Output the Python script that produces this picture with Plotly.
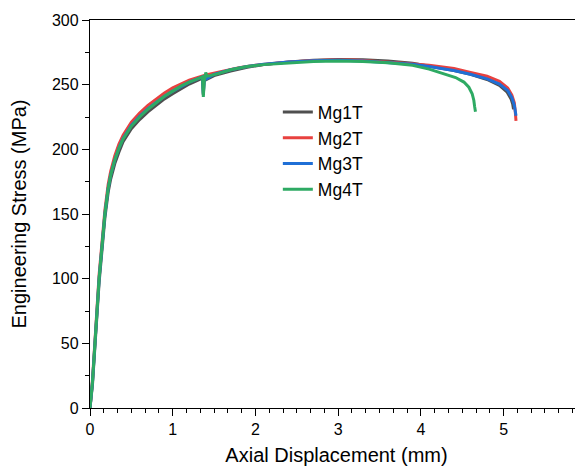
import plotly.graph_objects as go

# ---- data ----
mg1t_x = [0, 0.03, 0.06, 0.11, 0.18, 0.22, 0.25, 0.30, 0.35, 0.40, 0.50, 0.60, 0.70, 0.80, 0.90, 1.00,
          1.20, 1.36, 1.37, 1.38, 1.50, 1.70, 1.90, 2.10, 2.40, 2.70, 3.00, 3.30, 3.60, 3.90, 4.10,
          4.40, 4.60, 4.80, 4.95, 5.04, 5.09, 5.11, 5.12]
mg1t_y = [0, 18, 48, 97, 147, 167, 177, 189, 198, 206, 216, 223, 229, 234, 239, 243,
          250.5, 255, 242, 253, 257, 260.5, 263.5, 265.5, 267.5, 268.8, 269.5, 269.3, 268.3, 266.5, 264.5,
          261, 258, 254, 249.5, 244.5, 239, 235, 231]

mg2t_x = [0, 0.03, 0.06, 0.11, 0.18, 0.22, 0.25, 0.30, 0.35, 0.40, 0.50, 0.60, 0.70, 0.80, 0.90, 1.00,
          1.20, 1.40, 1.60, 1.80, 2.00, 2.30, 2.60, 2.90, 3.20, 3.50, 3.80, 4.10, 4.40, 4.60, 4.80,
          4.95, 5.05, 5.10, 5.13, 5.14, 5.15]
mg2t_y = [0, 22, 52, 103, 153, 173, 183, 195, 204, 211, 221, 228, 234, 239, 243.5, 247.5,
          253.5, 257.5, 260.5, 263, 265, 267, 268.3, 269, 269, 268, 266.5, 265, 262.5, 259.5, 256.5,
          252.5, 247.5, 242, 236, 230, 222]

mg3t_x = [0, 0.03, 0.06, 0.11, 0.18, 0.22, 0.25, 0.30, 0.35, 0.40, 0.50, 0.60, 0.70, 0.80, 0.90, 1.00,
          1.20, 1.36, 1.37, 1.38, 1.50, 1.70, 1.90, 2.10, 2.40, 2.70, 3.00, 3.30, 3.60, 3.90, 4.10,
          4.40, 4.60, 4.80, 4.95, 5.05, 5.10, 5.13, 5.14, 5.15]
mg3t_y = [0, 20, 50, 100, 150, 170, 180, 192, 201, 208.5, 218.5, 225.5, 231.5, 236.5, 241, 245,
          252, 256, 243, 253.5, 258, 261.5, 264, 265.8, 267.5, 268.5, 268.8, 268.3, 267.3, 265.8, 264,
          261, 258, 254.5, 250.5, 245.5, 240, 234, 230, 226]

mg4t_x = [0, 0.03, 0.06, 0.11, 0.18, 0.22, 0.25, 0.30, 0.35, 0.40, 0.50, 0.60, 0.70, 0.80, 0.90, 1.00,
          1.10, 1.20, 1.30, 1.36, 1.37, 1.38, 1.40, 1.41, 1.45, 1.55, 1.70, 1.90, 2.10, 2.40, 2.70,
          3.00, 3.30, 3.60, 3.90, 4.10, 4.30, 4.42, 4.52, 4.58, 4.62, 4.64, 4.65, 4.66]
mg4t_y = [0, 20, 50, 100, 150, 170, 180, 192, 201, 208, 218, 225, 231, 236, 241, 245,
          249, 252, 254.5, 256, 240.5, 252, 259.5, 256.5, 257, 258.5, 261.5, 264, 265.5, 267, 268,
          268.3, 268, 267, 265, 262, 258, 255.5, 252, 248, 243, 238, 233, 229]

series_names = ["Mg1T", "Mg2T", "Mg3T", "Mg4T"]
series_x = [mg1t_x, mg2t_x, mg3t_x, mg4t_x]
series_y = [mg1t_y, mg2t_y, mg3t_y, mg4t_y]
series_colors = ["#4f4f4f", "#e8413f", "#1f6fd6", "#2eaa63"]

x_ticks = [0, 1, 2, 3, 4, 5, 6]
y_ticks = [0, 50, 100, 150, 200, 250, 300]

FONT = "Liberation Sans, Arial, sans-serif"

fig = go.Figure()
for name, xs, ys, col in zip(series_names, series_x, series_y, series_colors):
    fig.add_trace(go.Scatter(x=xs, y=ys, mode="lines", name=name,
                             line=dict(color=col, width=3)))

# the page body adds an 8px offset, so the figure is sized/margined to compensate
fig.update_layout(
    width=575, height=458,
    margin=dict(l=82, r=0, t=12, b=58, autoexpand=False),
    paper_bgcolor="white", plot_bgcolor="white",
    font=dict(family=FONT, color="black", size=16),
    showlegend=True,
    legend=dict(x=0.381, y=0.809, xanchor="left", yanchor="top",
                bgcolor="rgba(0,0,0,0)", borderwidth=0,
                font=dict(family=FONT, size=17.5, color="black"),
                tracegroupgap=0),
)

fig.update_xaxes(
    range=[0, 5.96], tickvals=x_ticks, ticktext=[str(v) for v in x_ticks],
    automargin=True,
    showgrid=False, zeroline=False,
    showline=True, linecolor="black", linewidth=1.3, mirror=True,
    ticks="outside", ticklen=7, tickwidth=1.3, tickcolor="black",
    tickfont=dict(family=FONT, size=16),
    minor=dict(dtick=1/6, ticks="outside", ticklen=4, tickwidth=1.2, tickcolor="black", showgrid=False),
    title=dict(text="Axial Displacement (mm)", font=dict(family=FONT, size=20), standoff=14),
)
fig.update_yaxes(
    range=[0, 300], tickvals=y_ticks, ticktext=[str(v) for v in y_ticks],
    automargin=True,
    showgrid=False, zeroline=False,
    showline=True, linecolor="black", linewidth=1.3, mirror=False,
    ticks="outside", ticklen=7, tickwidth=1.3, tickcolor="black",
    tickfont=dict(family=FONT, size=16),
    minor=dict(dtick=25, ticks="outside", ticklen=4, tickwidth=1.2, tickcolor="black", showgrid=False),
    title=dict(text="Engineering Stress (MPa)", font=dict(family=FONT, size=20), standoff=20),
)

fig.write_html("out.html")
